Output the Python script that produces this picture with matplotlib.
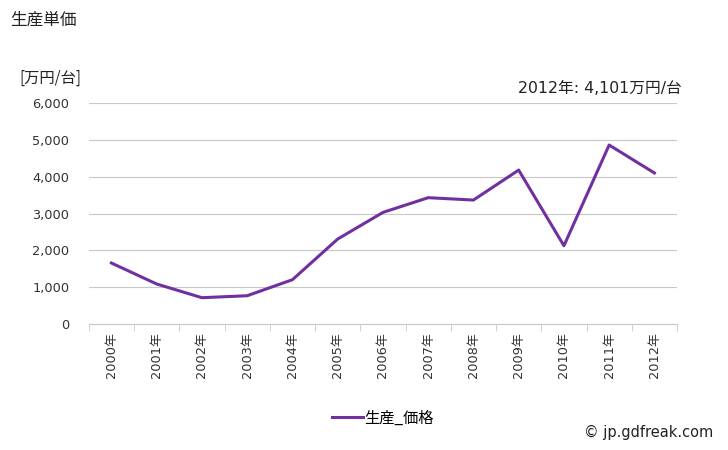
import numpy as np
import matplotlib
matplotlib.use("Agg")
import matplotlib.pyplot as plt

plt.rcParams['font.family'] = ['DejaVu Sans', 'Noto Sans CJK JP']

# 生産単価 (万円/台)
years = ['2000年', '2001年', '2002年', '2003年', '2004年', '2005年', '2006年',
         '2007年', '2008年', '2009年', '2010年', '2011年', '2012年']
price = [1656, 1086, 714, 768, 1203, 2307, 3030, 3430, 3366, 4180, 2125, 4860, 4101]

fig = plt.figure(figsize=(7.28, 4.5), dpi=100)
ax = fig.add_axes([0.122, 0.28, 0.808, 0.491])

x = np.arange(len(years))
ax.plot(x, price, color='#7030A0', lw=2.2, label='生産_価格', solid_joinstyle='round')

ax.set_xlim(-0.5, len(years) - 0.5)
ax.set_ylim(0, 6000)
ax.set_yticks(np.arange(0, 6001, 1000))
ax.set_yticklabels(['{:,}'.format(v) for v in range(0, 6001, 1000)], fontsize=9.3, color='#333333')
ax.yaxis.grid(True, color='#c8c8c8', lw=0.8)
ax.set_axisbelow(True)
ax.tick_params(axis='y', length=0, pad=14)

ax.set_xticks(x)
ax.set_xticklabels(years, rotation=90, fontsize=9.3, color='#333333')
ax.set_xticks(np.arange(-0.5, len(years), 1), minor=True)
ax.tick_params(axis='x', which='major', length=0, pad=6)
ax.tick_params(axis='x', which='minor', length=5, color='#c8c8c8')

for s in ['top', 'right', 'left']:
    ax.spines[s].set_visible(False)
ax.spines['bottom'].set_color('#c8c8c8')

cjk = ['Noto Sans CJK JP', 'DejaVu Sans']
fig.text(0.014, 0.955, '生産単価', fontsize=12, color='#222222', va='center', family=cjk)
fig.text(0.027, 0.826, '[万円/台]', fontsize=11, color='#222222', va='center', family=cjk)
fig.text(0.936, 0.804, '2012年: 4,101万円/台', fontsize=11.3, color='#222222', ha='right', va='center')

ax.legend(loc='center', bbox_to_anchor=(0.5, -0.425), frameon=False,
          prop={'family': cjk, 'size': 11}, handlelength=2.0, handletextpad=0.1)

fig.text(0.98, 0.038, '© jp.gdfreak.com', fontsize=10.5, color='#222222', ha='right', va='center')

fig.savefig('out.png', dpi=100)
